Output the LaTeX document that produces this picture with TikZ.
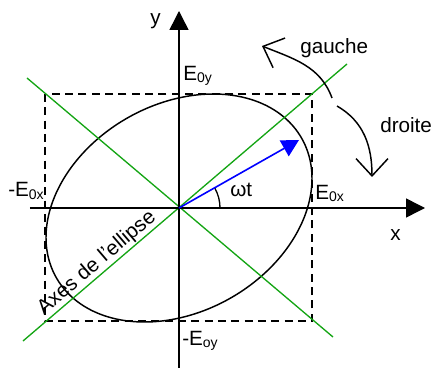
\documentclass[tikz,border=0pt]{standalone}
\usepackage{fontspec}
\setmainfont{Liberation Sans}
\usetikzlibrary{arrows.meta}
\definecolor{axgreen}{RGB}{20,165,20}
\newcommand{\sbs}[1]{\raisebox{-1.5pt}{\fontsize{10.5}{11}\selectfont #1}}
\begin{document}
\begin{tikzpicture}[x=0.75pt,y=0.75pt,
  lbl/.style={inner sep=0pt,font=\fontsize{15.5}{18}\selectfont,anchor=base west},
  axis/.style={line width=1.1pt,-{Triangle[length=14.25pt,width=14.25pt]}},
  box/.style={line width=1.1pt,dash pattern=on 6pt off 4pt},
  ell/.style={line width=1.1pt},
  greenax/.style={line width=1pt,axgreen},
  vec/.style={line width=1.2pt,blue,-{Triangle[length=12.75pt,width=13.5pt]}},
  turn/.style={line width=1.1pt,-{Straight Barb[length=13pt,width=24pt]}}]
\useasboundingbox (-179,-159) rectangle (255,208);
\coordinate (O) at (0,0);
% axes ends
\coordinate (xl) at (-149,0);
\coordinate (xr) at (246,0);
\coordinate (yb) at (0,-160);
\coordinate (yt) at (0,197);
% box corners
\coordinate (b1) at (-134,114);
\coordinate (b2) at (133,-113);
% green axes ends
\coordinate (ga1) at (-156,-133);
\coordinate (ga2) at (168,144);
\coordinate (gb1) at (-152,130);
\coordinate (gb2) at (154,-129);
% vector tip
\coordinate (vt) at (120,68);
% rotation arrows
\coordinate (g1) at (153,110);
\coordinate (g2) at (83,162);
\coordinate (d1) at (158,102);
\coordinate (d2) at (193,31);

\draw[box] (b1) rectangle (b2);
\draw[ell] plot[domain=0:360,samples=150,smooth cycle] ({133*cos(\x)},{114*cos(\x-75)});
\draw[greenax] (ga1) -- (ga2);
\draw[greenax] (gb1) -- (gb2);
\draw[axis] (xl) -- (xr);
\draw[axis] (yb) -- (yt);
\draw[line width=1pt] (30.75pt,0) arc[start angle=0,end angle=29.5,radius=30.75pt];
\draw[vec] (O) -- (vt);
\draw[turn] (g1) to[out=110,in=-22] (g2);
\draw[turn] (d1) to[out=-30,in=90] (d2);

\node[lbl] (ly) at (-29,183) {y};
\node[lbl] (lx) at (211,-32) {x};
\node[lbl] (le0y) at (4,127) {E\sbs{0y}};
\node[lbl] (lme0x) at (-171,11) {-E\sbs{0x}};
\node[lbl] (le0x) at (136,8) {E\sbs{0x}};
\node[lbl] (lmeoy) at (3,-137) {-E\sbs{oy}};
\node[lbl] (lwt) at (51,11) {ωt};
\node[lbl] (lg) at (121,154) {gauche};
\node[lbl] (ld) at (201,75) {droite};
\node[inner sep=0pt,font=\fontsize{15.5}{18}\selectfont,rotate=40.5] (lax) at (-82,-55) {Axes de l'ellipse};
\end{tikzpicture}
\end{document}
